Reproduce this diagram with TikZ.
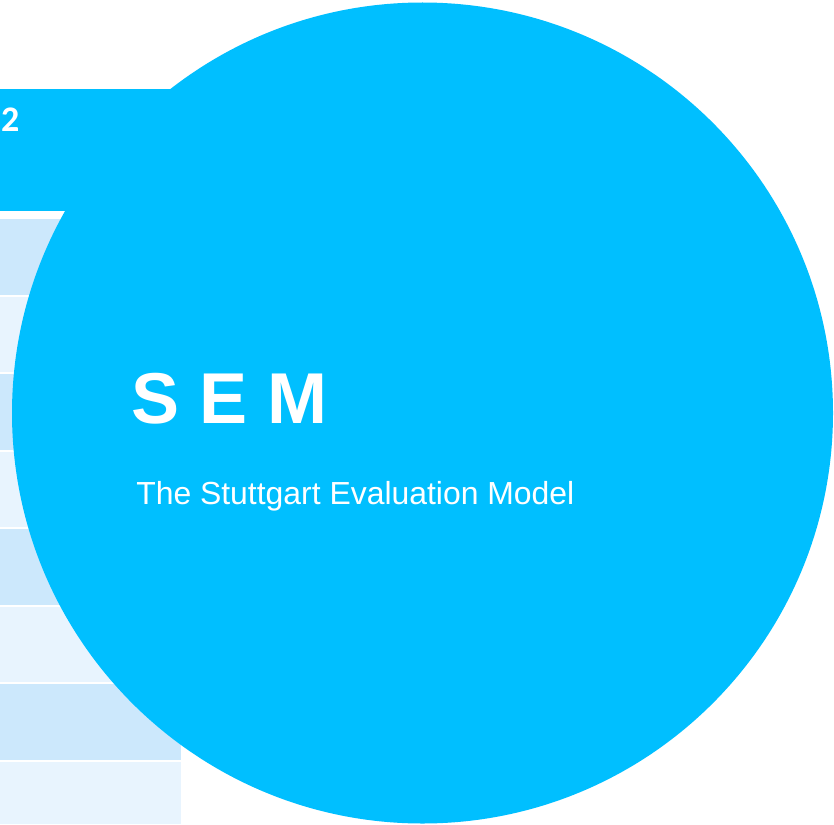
\documentclass[tikz,border=0pt]{standalone}
\usepackage{fontspec}
\setmainfont{Liberation Sans}
\newfontfamily\calibrifont{Carlito}
\definecolor{semblue}{HTML}{00BFFF}
\definecolor{rowdark}{HTML}{CCE8FC}
\definecolor{rowlight}{HTML}{E8F4FE}
\begin{document}
\begin{tikzpicture}[x=1pt,y=-1pt,
  rowbox/.style={draw=none},
  txt/.style={inner sep=0pt,outer sep=0pt,anchor=base west,text=white}]
\useasboundingbox (0,0) rectangle (834,824);
\fill[white] (0,0) rectangle (834,824);
% header band
\fill[semblue] (0,89) rectangle (500,211);
\node[txt,font=\calibrifont\bfseries\fontsize{36}{40}\selectfont] (hdr) at (1.2,131) {2};
% table rows
\foreach \i in {0,...,7}{
  \pgfmathsetmacro{\top}{219+77.57*\i}
  \pgfmathsetmacro{\bot}{\i==7 ? 824 : \top+75.5}
  \pgfmathtruncatemacro{\odd}{mod(\i,2)}
  \ifnum\odd=0
    \fill[rowdark] (0,\top) rectangle (181,\bot);
  \else
    \fill[rowlight] (0,\top) rectangle (181,\bot);
  \fi
}
% circle
\fill[semblue] (422.5,413) circle[radius=410.5];
\node[txt,font=\bfseries\fontsize{72}{80}\selectfont] (title) at (131.6,423) {S E M};
\node[txt,font=\fontsize{31.9}{36}\selectfont] (sub) at (136.3,504) {The Stuttgart Evaluation Model};
\end{tikzpicture}
\end{document}
